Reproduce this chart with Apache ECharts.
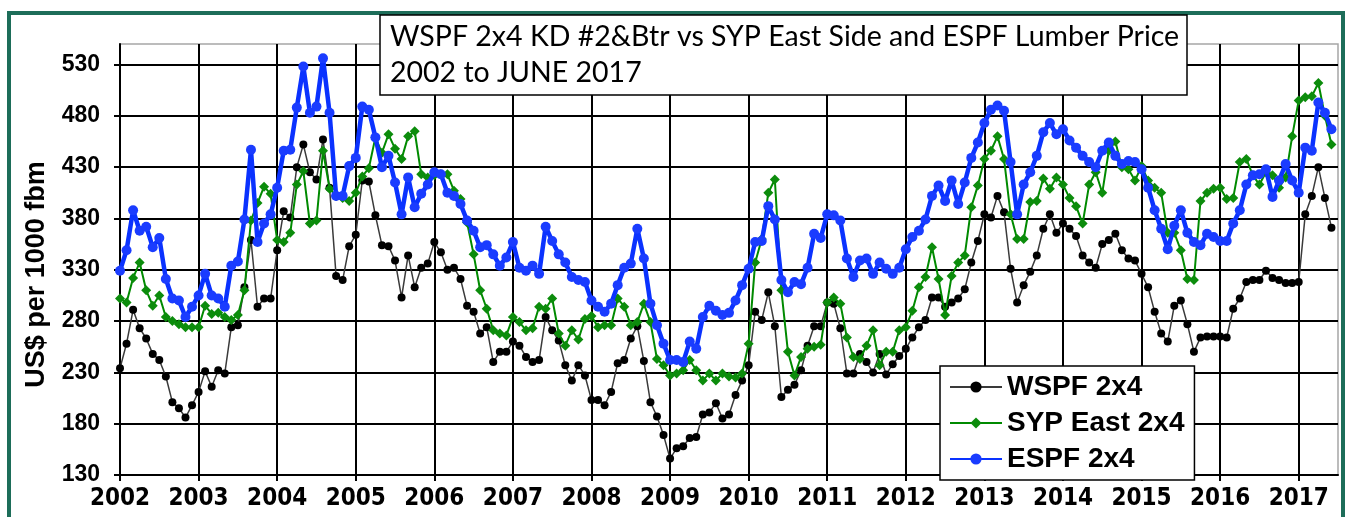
<!DOCTYPE html>
<html>
<head>
<meta charset="utf-8">
<script src="https://cdn.jsdelivr.net/npm/echarts@6/dist/echarts.min.js"></script>
<style>
  html, body { margin: 0; padding: 0; background: #fff; }
  #frame { position: absolute; left: 7px; top: 11px; width: 1338px; height: 520px;
           border: 4px solid #1d6d59; border-bottom: none; box-sizing: border-box; }
  #chart { position: absolute; left: 0; top: 0; width: 1360px; height: 517px; }
</style>
</head>
<body>
<div id="frame"></div>
<div id="chart"></div>
<script>
// Tick labels (one per January, 2002 .. 2017)
const years = ['2002','2003','2004','2005','2006','2007','2008','2009','2010','2011','2012','2013','2014','2015','2016','2017'];
const yTicks = [130, 180, 230, 280, 330, 380, 430, 480, 530];

// Monthly prices, Jan 2002 .. Jun 2017 (US$ per 1000 fbm)
const wspf = [
  234,258,291,273,263,248,242,226,201,195,186,198,
  211,231,216,232,229,274,276,313,359,294,302,302,
  349,387,381,430,452,425,418,457,410,324,320,353,
  364,417,416,383,354,353,339,303,344,313,332,336,
  357,347,330,332,321,295,289,268,274,240,250,250,
  260,256,245,240,242,284,271,261,237,222,237,227,
  203,203,198,211,239,242,263,275,241,201,187,169,
  146,156,158,166,167,189,191,200,185,189,208,222,
  237,289,281,308,275,206,213,218,232,256,275,275,
  298,297,273,229,229,248,240,230,248,228,238,246,
  253,264,274,281,303,303,294,298,302,311,337,358,
  384,381,402,386,331,298,315,328,344,370,384,366,
  375,370,363,344,337,332,355,359,365,349,341,339,
  326,313,289,268,260,295,300,277,250,264,265,265,
  265,264,292,302,318,320,320,329,322,320,317,317,
  318,384,402,430,400,371
];
const syp = [
  302,298,322,337,310,295,305,284,280,277,274,274,
  274,295,287,288,284,281,286,310,378,395,411,404,
  359,357,366,413,426,375,378,446,409,402,400,397,
  405,421,429,459,444,462,448,438,460,465,423,420,
  422,423,423,407,399,376,345,310,292,271,268,266,
  284,279,271,273,294,292,302,268,256,271,262,282,
  285,274,276,276,302,294,276,279,297,279,243,237,
  227,229,232,242,232,222,229,222,229,226,225,229,
  258,337,360,405,418,310,250,227,245,253,255,257,
  298,303,297,264,245,243,256,271,237,250,250,271,
  274,290,313,323,352,321,286,324,337,344,391,412,
  438,446,460,438,384,360,360,396,397,419,409,420,
  413,400,392,375,413,425,405,446,455,430,428,417,
  431,417,410,405,366,366,349,321,320,397,405,409,
  410,399,400,435,438,422,413,425,422,410,420,460,
  495,498,499,512,480,452
];
const espf = [
  329,349,388,368,372,352,361,321,302,300,284,294,
  305,326,305,302,294,334,338,379,447,357,375,384,
  410,446,447,488,528,483,489,536,483,402,402,431,
  439,489,486,459,430,441,415,384,420,391,404,413,
  425,423,405,402,394,378,368,352,354,345,334,342,
  357,332,329,334,326,372,358,345,337,323,320,318,
  300,294,289,297,315,332,336,370,341,297,276,258,
  242,242,240,260,253,284,295,290,286,288,300,315,
  331,357,358,392,379,320,308,318,316,332,365,361,
  384,383,378,341,323,339,341,326,337,331,326,332,
  350,362,368,379,402,412,397,417,394,415,439,454,
  473,486,490,485,435,384,413,425,441,464,473,462,
  467,456,449,441,435,430,446,454,441,433,436,435,
  428,410,388,370,350,373,388,366,357,354,365,362,
  358,358,375,388,413,422,423,428,401,417,433,417,
  405,449,446,493,483,467
];

const seriesNames = ['WSPF 2x4', 'SYP East 2x4', 'ESPF 2x4'];
const toPairs = arr => arr.map((v, i) => [i, v]);

const chart = echarts.init(document.getElementById('chart'), null, { renderer: 'canvas' });
const arialBold = { fontFamily: 'Liberation Sans, Arial, sans-serif', fontWeight: 'bold', color: '#000' };

chart.setOption({
  animation: false,
  backgroundColor: 'transparent',
  title: {
    text: 'WSPF 2x4 KD #2&Btr vs SYP East Side and ESPF Lumber Price\n2002 to JUNE 2017',
    left: 380, top: 15,
    padding: [4, 8, 4, 10],
    backgroundColor: '#fff',
    borderColor: '#000',
    borderWidth: 1.5,
    textStyle: {
      fontFamily: 'Lato, "Open Sans", sans-serif',
      fontWeight: 'normal',
      fontSize: 28.5,
      lineHeight: 36,
      color: '#000',
      width: 787
    }
  },
  legend: {
    orient: 'vertical',
    left: 940, top: 366,
    padding: [7, 10, 7, 9],
    itemGap: 8,
    itemWidth: 52,
    itemHeight: 14,
    backgroundColor: '#fff',
    borderColor: '#000',
    borderWidth: 1.5,
    borderRadius: 0,
    textStyle: Object.assign({ fontSize: 28 }, arialBold),
    data: seriesNames
  },
  grid: {
    left: 120, right: 22, top: 44, bottom: 42,
    show: true,
    borderColor: '#a6a6a6',
    borderWidth: 1.5,
    backgroundColor: '#fff',
    containLabel: false
  },
  xAxis: {
    type: 'value',
    min: 0, max: 186, interval: 12,
    axisLine: { show: true, onZero: false, lineStyle: { color: '#000', width: 2 } },
    axisTick: { show: true, length: 6, lineStyle: { color: '#000', width: 2 } },
    axisLabel: {
      show: true, margin: 12, showMaxLabel: false,
      fontFamily: '"Liberation Sans Narrow", "DejaVu Sans Condensed", "Liberation Sans", sans-serif',
      fontWeight: 'bold', fontSize: 24, color: '#000',
      formatter: v => (v % 12 === 0 && years[v / 12]) ? years[v / 12] : ''
    },
    splitLine: { show: true, showMaxLine: false, lineStyle: { color: '#000', width: 2 } }
  },
  yAxis: {
    type: 'value',
    min: yTicks[0], max: 550, interval: 50,
    name: 'US$ per 1000 fbm',
    nameLocation: 'middle',
    nameGap: 70,
    nameRotate: 90,
    nameTextStyle: Object.assign({ fontSize: 27, padding: [0, 30, 0, 0] }, arialBold),
    axisLine: { show: true, lineStyle: { color: '#000', width: 2 } },
    axisTick: { show: true, length: 6, lineStyle: { color: '#000', width: 2 } },
    axisLabel: Object.assign({ margin: 20, fontSize: 23, showMaxLabel: false,
      formatter: v => (yTicks.indexOf(v) >= 0 ? String(v) : '') }, arialBold),
    splitLine: { show: true, showMaxLine: false, lineStyle: { color: '#000', width: 2 } }
  },
  series: [
    {
      name: seriesNames[0], type: 'line', data: toPairs(wspf),
      symbol: 'circle', symbolSize: 8,
      itemStyle: { color: '#000' },
      lineStyle: { color: '#3a3a3a', width: 1.5 },
      z: 3
    },
    {
      name: seriesNames[1], type: 'line', data: toPairs(syp),
      symbol: 'diamond', symbolSize: 10,
      itemStyle: { color: '#0c8c0c' },
      lineStyle: { color: '#008a00', width: 2 },
      z: 4
    },
    {
      name: seriesNames[2], type: 'line', data: toPairs(espf),
      symbol: 'circle', symbolSize: 10,
      itemStyle: { color: '#1a3cff' },
      lineStyle: { color: '#0a32ff', width: 4.5 },
      z: 5
    }
  ]
});
</script>
</body>
</html>
